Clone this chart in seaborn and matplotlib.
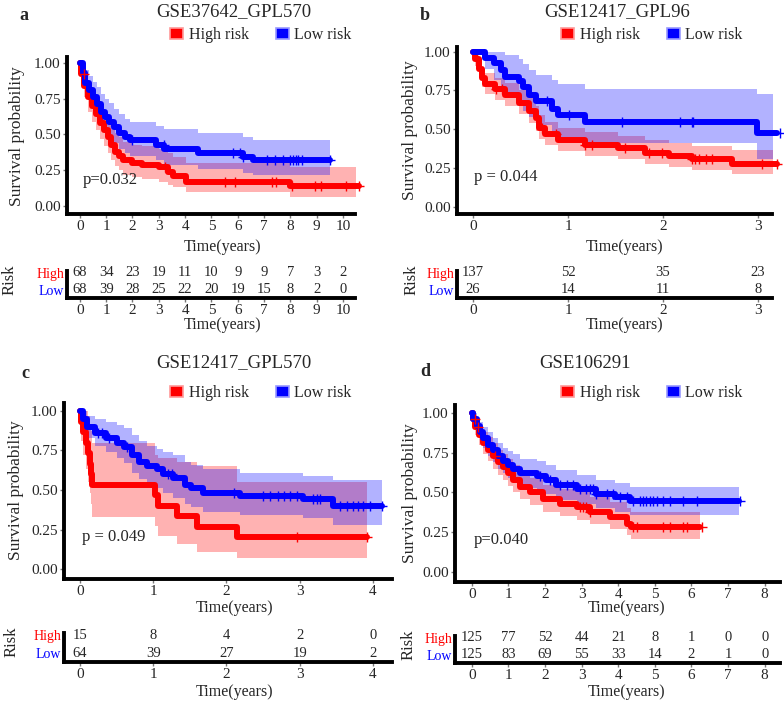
import numpy as np
import pandas as pd
import seaborn as sns
import matplotlib.pyplot as plt
from matplotlib.patches import Patch

# ---------------- values ----------------
# a : GSE37642_GPL570
a_high_t = [0, 0.05, 0.15, 0.3, 0.45, 0.6, 0.75, 0.9, 1.05, 1.2, 1.35, 1.5, 1.65, 2.0, 2.35, 3.0, 3.35, 3.55, 4.05, 8.0]
a_high_s = [1.0, 0.92, 0.84, 0.76, 0.70, 0.64, 0.58, 0.53, 0.48, 0.43, 0.38, 0.35, 0.32, 0.30, 0.29, 0.27, 0.24, 0.21, 0.17, 0.14]
a_high_lo = [1.0, 0.86, 0.76, 0.66, 0.59, 0.53, 0.47, 0.42, 0.37, 0.32, 0.28, 0.25, 0.22, 0.20, 0.19, 0.17, 0.15, 0.13, 0.10, 0.06]
a_high_hi = [1.0, 0.99, 0.94, 0.87, 0.82, 0.76, 0.71, 0.66, 0.61, 0.56, 0.51, 0.48, 0.45, 0.43, 0.42, 0.40, 0.37, 0.34, 0.30, 0.27]
a_high_end = 10.6
a_high_cens = [0.14, 3.25, 5.5, 5.9, 7.3, 7.45, 8.06, 8.95, 9.15, 10.1, 10.6]
a_low_t = [0, 0.1, 0.2, 0.35, 0.5, 0.65, 0.8, 0.95, 1.1, 1.3, 1.5, 1.7, 1.9, 2.9, 3.2, 4.5, 6.2, 6.6]
a_low_s = [1.0, 0.93, 0.86, 0.81, 0.76, 0.71, 0.66, 0.62, 0.59, 0.55, 0.51, 0.48, 0.46, 0.43, 0.40, 0.37, 0.34, 0.32]
a_low_lo = [1.0, 0.87, 0.79, 0.73, 0.67, 0.61, 0.56, 0.51, 0.48, 0.44, 0.40, 0.37, 0.35, 0.32, 0.29, 0.26, 0.23, 0.22]
a_low_hi = [1.0, 1.0, 0.95, 0.91, 0.87, 0.83, 0.78, 0.75, 0.72, 0.68, 0.64, 0.61, 0.59, 0.56, 0.54, 0.51, 0.48, 0.46]
a_low_end = 9.5
a_low_cens = [1.98, 3.18, 5.84, 6.1, 6.22, 7.11, 7.43, 7.74, 8.0, 8.1, 8.2, 8.3, 8.44, 9.52]
a_ticks = [0, 1, 2, 3, 4, 5, 6, 7, 8, 9, 10]
a_risk_high = [68, 34, 23, 19, 11, 10, 9, 9, 7, 3, 2]
a_risk_low = [68, 39, 28, 25, 22, 20, 19, 15, 8, 2, 0]

# b : GSE12417_GPL96
b_high_t = [0, 0.025, 0.06, 0.095, 0.13, 0.235, 0.34, 0.48, 0.59, 0.66, 0.69, 0.76, 0.90, 1.18, 1.53, 1.81, 2.06, 2.30, 2.73]
b_high_s = [1.0, 0.95, 0.89, 0.83, 0.79, 0.76, 0.72, 0.67, 0.62, 0.57, 0.51, 0.47, 0.43, 0.40, 0.38, 0.35, 0.33, 0.31, 0.28]
b_high_lo = [1.0, 0.91, 0.84, 0.77, 0.73, 0.69, 0.65, 0.60, 0.54, 0.49, 0.44, 0.40, 0.36, 0.33, 0.31, 0.28, 0.26, 0.24, 0.21]
b_high_hi = [1.0, 0.99, 0.95, 0.89, 0.86, 0.83, 0.80, 0.75, 0.70, 0.65, 0.59, 0.55, 0.51, 0.48, 0.46, 0.43, 0.41, 0.39, 0.37]
b_high_end = 3.2
b_high_cens = [0.24, 0.305, 0.73, 0.87, 1.18, 1.25, 1.6, 1.85, 1.99, 2.3, 2.34, 2.38, 2.45, 2.52, 3.04, 3.2]
b_low_t = [0, 0.13, 0.22, 0.29, 0.34, 0.48, 0.53, 0.59, 0.66, 0.83, 0.90, 1.18, 2.99]
b_low_s = [1.0, 0.96, 0.93, 0.88, 0.84, 0.81, 0.77, 0.72, 0.68, 0.63, 0.59, 0.55, 0.475]
b_low_lo = [1.0, 0.89, 0.82, 0.77, 0.72, 0.67, 0.62, 0.58, 0.53, 0.49, 0.45, 0.41, 0.31]
b_low_hi = [1.0, 1.0, 1.0, 1.0, 0.98, 0.95, 0.92, 0.88, 0.85, 0.82, 0.79, 0.76, 0.73]
b_low_end = 3.2
b_low_cens = [0.78, 1.01, 1.57, 2.18, 2.3, 2.32, 3.23]
b_ticks = [0, 1, 2, 3]
b_risk_high = [137, 52, 35, 23]
b_risk_low = [26, 14, 11, 8]

# c : GSE12417_GPL570
c_high_t = [0, 0.01, 0.045, 0.08, 0.11, 0.135, 0.15, 0.165, 1.02, 1.07, 1.32, 1.6, 2.14]
c_high_s = [1.0, 0.933, 0.867, 0.80, 0.733, 0.667, 0.60, 0.533, 0.467, 0.40, 0.333, 0.267, 0.20]
c_high_lo = [1.0, 0.81, 0.72, 0.63, 0.55, 0.48, 0.41, 0.33, 0.27, 0.21, 0.16, 0.11, 0.07]
c_high_hi = [1.0, 1.0, 1.0, 1.0, 0.97, 0.92, 0.87, 0.80, 0.72, 0.70, 0.68, 0.65, 0.55]
c_high_end = 3.92
c_high_cens = [2.96, 3.92]
c_low_t = [0, 0.046, 0.09, 0.2, 0.36, 0.5, 0.6, 0.71, 0.8, 0.91, 1.05, 1.14, 1.27, 1.43, 1.52, 1.68, 2.18, 3.05, 3.46]
c_low_s = [1.0, 0.95, 0.90, 0.86, 0.83, 0.80, 0.77, 0.72, 0.68, 0.65, 0.63, 0.60, 0.575, 0.53, 0.51, 0.48, 0.46, 0.44, 0.40]
c_low_lo = [1.0, 0.90, 0.83, 0.78, 0.74, 0.70, 0.67, 0.61, 0.57, 0.54, 0.51, 0.48, 0.45, 0.41, 0.39, 0.36, 0.34, 0.32, 0.28]
c_low_hi = [1.0, 1.0, 0.97, 0.95, 0.93, 0.91, 0.89, 0.85, 0.81, 0.78, 0.76, 0.74, 0.72, 0.68, 0.66, 0.63, 0.61, 0.59, 0.56]
c_low_end = 4.12
c_low_cens = [0.25, 0.3, 0.4, 0.64, 1.2, 1.25, 2.1, 2.5, 2.6, 2.7, 2.78, 2.87, 2.96, 3.18, 3.23, 3.28,
              3.55, 3.64, 3.73, 3.8, 3.87, 3.96, 4.12]
c_ticks = [0, 1, 2, 3, 4]
c_risk_high = [15, 8, 4, 2, 0]
c_risk_low = [64, 39, 27, 19, 2]

# d : GSE106291
d_high_t = [0, 0.04, 0.1, 0.2, 0.31, 0.45, 0.58, 0.72, 0.86, 1.0, 1.13, 1.31, 1.58, 1.95, 2.4, 2.86, 3.22, 3.77, 4.23, 4.36]
d_high_s = [1.0, 0.96, 0.91, 0.86, 0.81, 0.77, 0.73, 0.69, 0.66, 0.62, 0.58, 0.535, 0.50, 0.46, 0.43, 0.41, 0.38, 0.345, 0.30, 0.28]
d_high_lo = [1.0, 0.93, 0.86, 0.80, 0.74, 0.70, 0.65, 0.61, 0.58, 0.54, 0.50, 0.46, 0.42, 0.38, 0.35, 0.33, 0.30, 0.27, 0.23, 0.21]
d_high_hi = [1.0, 0.99, 0.96, 0.92, 0.88, 0.85, 0.81, 0.77, 0.74, 0.71, 0.67, 0.62, 0.59, 0.55, 0.52, 0.50, 0.47, 0.44, 0.40, 0.38]
d_high_end = 6.23
d_high_cens = [0.08, 0.17, 0.63, 2.95, 3.04, 3.13, 3.22, 4.41, 4.5, 5.23, 5.41, 5.77, 5.87, 6.3]
d_low_t = [0, 0.04, 0.13, 0.22, 0.31, 0.45, 0.58, 0.72, 0.86, 1.0, 1.13, 1.31, 1.77, 2.04, 2.31, 2.86, 3.4, 3.9, 4.32]
d_low_s = [1.0, 0.965, 0.92, 0.88, 0.84, 0.80, 0.765, 0.73, 0.70, 0.675, 0.65, 0.62, 0.605, 0.58, 0.545, 0.52, 0.49, 0.47, 0.445]
d_low_lo = [1.0, 0.93, 0.87, 0.82, 0.78, 0.73, 0.69, 0.65, 0.62, 0.59, 0.56, 0.53, 0.51, 0.49, 0.45, 0.43, 0.40, 0.38, 0.36]
d_low_hi = [1.0, 1.0, 0.97, 0.94, 0.91, 0.88, 0.84, 0.81, 0.78, 0.76, 0.74, 0.71, 0.70, 0.67, 0.64, 0.61, 0.58, 0.56, 0.535]
d_low_end = 7.3
d_low_cens = [1.86, 2.13, 2.4, 2.59, 2.77, 2.95, 3.13, 3.22, 3.31, 3.4, 3.68, 3.86, 4.04, 4.23, 4.41, 4.59,
              4.68, 4.77, 4.86, 4.95, 5.05, 5.23, 5.41, 5.77, 6.14, 7.32]
d_ticks = [0, 1, 2, 3, 4, 5, 6, 7, 8]
d_risk_high = [125, 77, 52, 44, 21, 8, 1, 0, 0]
d_risk_low = [125, 83, 69, 55, 33, 14, 2, 1, 0]

# ---------------- style ----------------
sns.set_style("white")
plt.rcParams['font.family'] = ['Liberation Serif', 'DejaVu Serif']

W, H = 784, 701
RED, BLUE = '#FF0000', '#0000FF'
PAL = {'High risk': RED, 'Low risk': BLUE}
ROW_HIGH, ROW_LOW = 0.93, 0.30


def box(l, t, r, b):
    return [l / W, 1 - b / H, (r - l) / W, (b - t) / H]


def ftext(x, y, s, **kw):
    fig.text(x / W, 1 - y / H, s, ha=kw.pop('ha', 'center'), va=kw.pop('va', 'center'), **kw)


def step_val(t, s, x):
    i = np.searchsorted(t, x, side='right') - 1
    return np.asarray(s)[np.clip(i, 0, len(s) - 1)]


def style_axis(ax):
    sns.despine(ax=ax)
    for sp in ['left', 'bottom']:
        ax.spines[sp].set_linewidth(2.8)
        ax.spines[sp].set_color('black')
    ax.tick_params(axis='both', which='both', color='#777777', length=3, width=1,
                   labelsize=11, pad=1.5, left=True, bottom=True)


panels = [
    dict(letter='a', title='GSE37642_GPL570', pval='p=0.032', ticks=a_ticks,
         high=(a_high_t, a_high_s, a_high_lo, a_high_hi, a_high_end, a_high_cens),
         low=(a_low_t, a_low_s, a_low_lo, a_low_hi, a_low_end, a_low_cens),
         rh=a_risk_high, rl=a_risk_low,
         km=(67, 57, 355, 214), rk=(67, 271, 355, 298), xlim=(-0.49, 10.46), ylim=(-0.056, 1.042),
         title_xy=(234, 12), letter_xy=(24, 16), leg_xy=(261, 35), p_xy=(83, 180),
         ylab_xy=(17, 136), risk_xy=(10, 280), xlab1=(222, 247), xlab2=(222, 325)),
    dict(letter='b', title='GSE12417_GPL96', pval='p = 0.044', ticks=b_ticks,
         high=(b_high_t, b_high_s, b_high_lo, b_high_hi, b_high_end, b_high_cens),
         low=(b_low_t, b_low_s, b_low_lo, b_low_hi, b_low_end, b_low_cens),
         rh=b_risk_high, rl=b_risk_low,
         km=(457, 47, 772, 214), rk=(457, 271, 772, 298), xlim=(-0.168, 3.147), ylim=(-0.045, 1.03),
         title_xy=(617, 12), letter_xy=(425, 16), leg_xy=(652, 35), p_xy=(474, 177),
         ylab_xy=(410, 130), risk_xy=(412, 280), xlab1=(624, 247), xlab2=(624, 325)),
    dict(letter='c', title='GSE12417_GPL570', pval='p = 0.049', ticks=c_ticks,
         high=(c_high_t, c_high_s, c_high_lo, c_high_hi, c_high_end, c_high_cens),
         low=(c_low_t, c_low_s, c_low_lo, c_low_hi, c_low_end, c_low_cens),
         rh=c_risk_high, rl=c_risk_low,
         km=(64, 403, 392, 579), rk=(64, 633, 392, 662), xlim=(-0.218, 4.26), ylim=(-0.063, 1.05),
         title_xy=(234, 363), letter_xy=(25, 373), leg_xy=(261, 393), p_xy=(82, 537),
         ylab_xy=(16, 490), risk_xy=(12, 642), xlab1=(234, 608), xlab2=(234, 692)),
    dict(letter='d', title='GSE106291', pval='p=0.040', ticks=d_ticks,
         high=(d_high_t, d_high_s, d_high_lo, d_high_hi, d_high_end, d_high_cens),
         low=(d_low_t, d_low_s, d_low_lo, d_low_hi, d_low_end, d_low_cens),
         rh=d_risk_high, rl=d_risk_low,
         km=(455, 405, 780, 582), rk=(455, 636, 780, 663), xlim=(-0.46, 8.42), ylim=(-0.063, 1.05),
         title_xy=(585, 363), letter_xy=(425, 372), leg_xy=(652, 393), p_xy=(474, 540),
         ylab_xy=(410, 493), risk_xy=(409, 645), xlab1=(626, 608), xlab2=(626, 692)),
]

fig = plt.figure(figsize=(W / 100, H / 100), dpi=100)

for p in panels:
    ax = fig.add_axes(box(*p['km']))
    frames = []
    for name, (t, s, lo, hi, end, cens) in [('High risk', p['high']), ('Low risk', p['low'])]:
        tt = list(t) + [end]
        ax.fill_between(tt, list(lo) + [lo[-1]], list(hi) + [hi[-1]], step='post',
                        color=PAL[name], alpha=0.3, lw=0)
        frames.append(pd.DataFrame({'time': tt, 'surv': list(s) + [s[-1]], 'group': name}))
    df = pd.concat(frames, ignore_index=True)
    sns.lineplot(data=df, x='time', y='surv', hue='group', hue_order=['High risk', 'Low risk'],
                 palette=PAL, estimator=None, sort=False, drawstyle='steps-post', linewidth=4.3,
                 legend=False, ax=ax, clip_on=False)
    for name, (t, s, lo, hi, end, cens) in [('High risk', p['high']), ('Low risk', p['low'])]:
        ax.plot(cens, step_val(t, s, cens), '+', color=PAL[name], ms=7, mew=1, clip_on=False)
    ax.set_xlim(*p['xlim'])
    ax.set_ylim(*p['ylim'])
    ax.set_xticks(p['ticks'])
    ax.set_yticks([0, 0.25, 0.5, 0.75, 1.0])
    ax.set_yticklabels(['0.00', '0.25', '0.50', '0.75', '1.00'])
    ax.set_xlabel('')
    ax.set_ylabel('')
    style_axis(ax)
    ax.text((p['p_xy'][0] - p['km'][0]) / (p['km'][2] - p['km'][0]),
            (p['km'][3] - p['p_xy'][1]) / (p['km'][3] - p['km'][1]),
            p['pval'], transform=ax.transAxes, ha='left', va='center', fontsize=12)

    handles = [Patch(facecolor=RED, edgecolor='#FF9A9A', lw=1.2, label='High risk'),
               Patch(facecolor=BLUE, edgecolor='#9A9AFF', lw=1.2, label='Low risk')]
    fig.legend(handles=handles, loc='center', ncol=2, frameon=False, fontsize=11.5,
               bbox_to_anchor=(p['leg_xy'][0] / W, 1 - p['leg_xy'][1] / H),
               handlelength=0.8, handleheight=0.75, handletextpad=0.35, columnspacing=1.7)

    # risk table
    rax = fig.add_axes(box(*p['rk']))
    rax.set_xlim(*p['xlim'])
    rax.set_ylim(0, 1)
    for x, nh, nl in zip(p['ticks'], p['rh'], p['rl']):
        rax.text(x, ROW_HIGH, str(nh), ha='center', va='center', fontsize=10.5)
        rax.text(x, ROW_LOW, str(nl), ha='center', va='center', fontsize=10.5)
    rax.set_xticks(p['ticks'])
    rax.set_yticks([ROW_HIGH, ROW_LOW])
    rax.set_yticklabels(['High', 'Low'])
    style_axis(rax)
    rax.tick_params(axis='y', length=0, pad=2, labelsize=10)
    for lab, col in zip(rax.get_yticklabels(), [RED, BLUE]):
        lab.set_color(col)

    ftext(*p['title_xy'], p['title'], fontsize=13.5)
    ftext(*p['letter_xy'], p['letter'], fontsize=13, fontweight='bold')
    ftext(*p['ylab_xy'], 'Survival probability', fontsize=12.5, rotation=90)
    ftext(*p['risk_xy'], 'Risk', fontsize=12, rotation=90)
    ftext(*p['xlab1'], 'Time(years)', fontsize=11.5)
    ftext(*p['xlab2'], 'Time(years)', fontsize=11.5)

fig.savefig('out.png', dpi=100)
